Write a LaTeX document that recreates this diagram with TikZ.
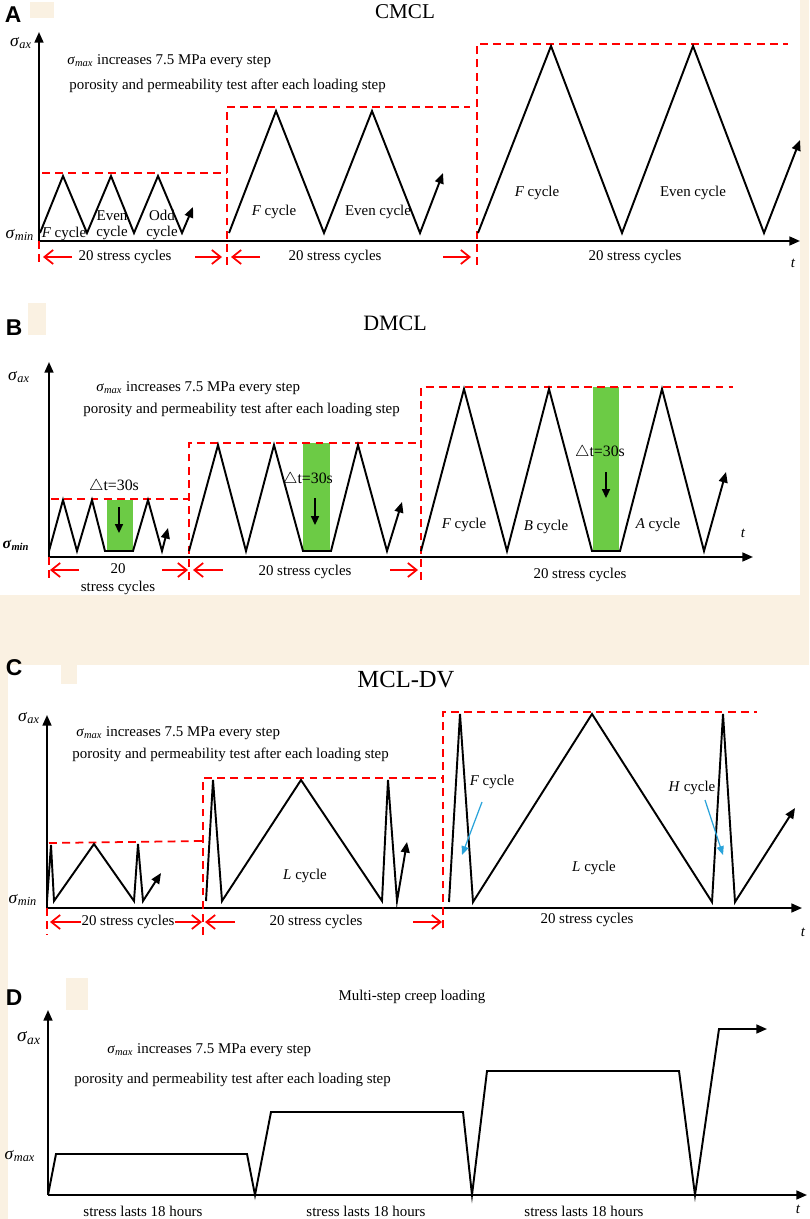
\documentclass[tikz,border=0pt]{standalone}
\usepackage{fontspec}
\setmainfont{Liberation Serif}
\newfontfamily\labelfont{Liberation Sans}
\usetikzlibrary{arrows.meta}
\definecolor{paper}{RGB}{250,241,226}
\definecolor{pause}{RGB}{108,203,69}
\definecolor{hint}{RGB}{41,163,218}
\newcommand{\sg}[1]{\textit{σ}\textsubscript{\textit{#1}}}
\begin{document}
\begin{tikzpicture}[x=0.02cm,y=-0.02cm,
  load/.style={line width=1.1pt},
  loadend/.style={load,-{Triangle[length=6pt,width=5pt]}},
  axis/.style={line width=1.1pt,-{Triangle[length=6pt,width=5pt]}},
  maxline/.style={red,line width=1pt,dash pattern=on 4.5pt off 3pt},
  spanarr/.style={red,line width=1pt,-{Straight Barb[length=5pt,width=8pt]}},
  hintarr/.style={hint,line width=0.7pt,-{Triangle[length=5pt,width=4pt]}},
  downarr/.style={line width=1pt,-{Triangle[length=5pt,width=4.5pt]}},
  txt/.style={font=\fontsize{8.5}{9}\selectfont,inner sep=0pt},
  sig/.style={font=\fontsize{10}{10}\selectfont,inner sep=0pt},
  ttl/.style={inner sep=0pt},
  tag/.style={font=\labelfont\bfseries\fontsize{13}{13}\selectfont,inner sep=0pt}]
\useasboundingbox (0,0) rectangle (809,1219);
\fill[white] (0,0) rectangle (809,1219);
\fill[paper] (800,0) rectangle (809,665);
\fill[paper] (0,595) rectangle (809,665);
\fill[paper] (0,665) rectangle (8,1219);
\fill[paper] (30,2) rectangle (54,18);
\fill[paper] (28,303) rectangle (46,335);
\fill[paper] (61,665) rectangle (77,684);
\fill[paper] (66,978) rectangle (88,1010);

% A
\node[tag] (tagA) at (13,15) {A};
\node[ttl,font=\fontsize{12}{12}\selectfont] (ttlA) at (405,12) {CMCL};
\draw[axis] (39,241) -- (39,32);
\draw[axis] (39,241) -- (800,241);
\node[sig] (saxA) at (21,43) {\sg{ax}};
\node[sig] (sminA) at (20,235) {\sg{min}};
\node[txt,anchor=west] (incA) at (67,61) {\sg{max} increases 7.5 MPa every step};
\node[txt,anchor=west] (porA) at (69,86) {porosity and permeability test after each loading step};
\draw[maxline] (42,173) -- (227,173);
\draw[maxline] (39,241) -- (39,267);
\draw[maxline] (227,265) -- (227,107) -- (470,107);
\draw[maxline] (477,265) -- (477,44) -- (788,44);
\draw[loadend] (40,233) -- (63,176) -- (87,233) -- (111,176) -- (134,233) -- (158,176) -- (182,233) -- (193,207);
\draw[loadend] (229,233) -- (276,111) -- (324,233) -- (372,111) -- (420,233) -- (443,173);
\draw[loadend] (478,233) -- (551,46) -- (622,233) -- (693,46) -- (764,233) -- (800,140);
\node[txt] (cycA1) at (64,234) {\textit{F} cycle};
\node[txt,align=center] (cycA2) at (112,225) {Even\\cycle};
\node[txt,align=center] (cycA3) at (162,225) {Odd\\cycle};
\node[txt] (cycA4) at (274,212) {\textit{F} cycle};
\node[txt] (cycA5) at (378,212) {Even cycle};
\node[txt] (cycA6) at (537,193) {\textit{F} cycle};
\node[txt] (cycA7) at (693,193) {Even cycle};
\node[txt] (tA) at (793,263) {\textit{t}};
\draw[spanarr] (72,257) -- (43,257);
\node[txt] (spanA1) at (125,257) {20 stress cycles};
\draw[spanarr] (195,257) -- (222,257);
\draw[spanarr] (260,257) -- (231,257);
\node[txt] (spanA2) at (335,257) {20 stress cycles};
\draw[spanarr] (443,257) -- (471,257);
\node[txt] (spanA3) at (635,257) {20 stress cycles};

% B
\node[tag] (tagB) at (14,328) {B};
\node[ttl,font=\fontsize{12.5}{12.5}\selectfont] (ttlB) at (395,323) {DMCL};
\draw[axis] (49,557) -- (49,362);
\draw[axis] (49,557) -- (753,557);
\node[sig] (saxB) at (19,377) {\sg{ax}};
\node[sig,font=\fontsize{9}{9}\selectfont] (sminB) at (16,545) {\textbf{\sg{min}}};
\node[txt,anchor=west] (incB) at (96,388) {\sg{max} increases 7.5 MPa every step};
\node[txt,anchor=west] (porB) at (83,410) {porosity and permeability test after each loading step};
\fill[pause] (107,500) rectangle (133,551);
\fill[pause] (303,443) rectangle (330,551);
\fill[pause] (593,387) rectangle (619,551);
\draw[maxline] (51,499) -- (189,499);
\draw[maxline] (49,557) -- (49,580);
\draw[maxline] (189,580) -- (189,443) -- (421,443);
\draw[maxline] (421,580) -- (421,387) -- (733,387);
\draw[loadend] (49,551) -- (63,500) -- (77,551) -- (92,500) -- (105,551) -- (133,551) -- (148,500) -- (162,551) -- (168,528);
\draw[loadend] (189,551) -- (218,445) -- (246,551) -- (274,445) -- (303,551) -- (331,551) -- (358,445) -- (387,551) -- (402,502);
\draw[loadend] (421,551) -- (464,389) -- (507,551) -- (549,389) -- (592,551) -- (620,551) -- (662,389) -- (704,551) -- (726,472);
\draw[downarr] (119,507) -- (119,533);
\draw[downarr] (315,498) -- (315,525);
\draw[downarr] (606,472) -- (606,498);
\node[txt,font=\fontsize{9}{9}\selectfont] (dtB1) at (114,487) {$\triangle$t=30s};
\node[txt,font=\fontsize{9}{9}\selectfont] (dtB2) at (308,480) {$\triangle$t=30s};
\node[txt,font=\fontsize{9}{9}\selectfont] (dtB3) at (600,453) {$\triangle$t=30s};
\node[txt] (cycB1) at (464,525) {\textit{F} cycle};
\node[txt] (cycB2) at (546,527) {\textit{B} cycle};
\node[txt] (cycB3) at (658,525) {\textit{A} cycle};
\node[txt] (tB) at (743,533) {\textit{t}};
\draw[spanarr] (79,570) -- (50,570);
\node[txt,align=center] (spanB1) at (118,579) {20\\[1pt]stress cycles};
\draw[spanarr] (162,570) -- (188,570);
\draw[spanarr] (223,570) -- (193,570);
\node[txt] (spanB2) at (305,572) {20 stress cycles};
\draw[spanarr] (390,570) -- (418,570);
\node[txt] (spanB3) at (580,575) {20 stress cycles};

% C
\node[tag] (tagC) at (14,668) {C};
\node[ttl,font=\fontsize{14}{14}\selectfont] (ttlC) at (406,680) {MCL-DV};
\draw[axis] (47,908) -- (47,715);
\draw[axis] (47,908) -- (802,908);
\node[sig] (saxC) at (29,718) {\sg{ax}};
\node[sig] (sminC) at (23,900) {\sg{min}};
\node[txt,anchor=west] (incC) at (76,733) {\sg{max} increases 7.5 MPa every step};
\node[txt,anchor=west] (porC) at (72,755) {porosity and permeability test after each loading step};
\draw[maxline] (49,843) -- (203,841);
\draw[maxline] (47,908) -- (47,935);
\draw[maxline] (203,935) -- (203,778) -- (443,778);
\draw[maxline] (443,928) -- (443,712) -- (757,712);
\draw[loadend] (47,901) -- (51,845) -- (54,901) -- (94,844) -- (134,901) -- (138,844) -- (143,901) -- (161,873);
\draw[loadend] (206,901) -- (213,780) -- (222,901) -- (301,780) -- (382,901) -- (388,780) -- (397,901) -- (407,842);
\draw[loadend] (449,902) -- (460,714) -- (473,902) -- (592,714) -- (712,902) -- (723,714) -- (735,902) -- (795,808);
\node[txt] (cycC1) at (305,876) {\textit{L} cycle};
\node[txt] (cycC2) at (594,868) {\textit{L} cycle};
\node[txt] (cycC3) at (492,782) {\textit{F} cycle};
\node[txt] (cycC4) at (692,788) {\textit{H} cycle};
\draw[hintarr] (482,802) -- (462,855);
\draw[hintarr] (705,800) -- (723,855);
\node[txt] (tC) at (803,932) {\textit{t}};
\node[txt] (spanC1) at (128,922) {20 stress cycles};
\draw[spanarr] (spanC1.west) -- (50,922);
\draw[spanarr] (spanC1.east) -- (202,922);
\node[txt] (spanC2) at (316,922) {20 stress cycles};
\draw[spanarr] (235,922) -- (205,922);
\draw[spanarr] (413,922) -- (442,922);
\node[txt] (spanC3) at (587,920) {20 stress cycles};

% D
\node[tag] (tagD) at (14,998) {D};
\node[txt] (ttlD) at (412,997) {Multi-step creep loading};
\draw[axis] (48,1195) -- (48,1010);
\draw[axis] (48,1195) -- (807,1195);
\node[sig,font=\fontsize{11}{11}\selectfont] (saxD) at (29,1038) {\sg{ax}};
\node[sig] (smaxD) at (20,1156) {\sg{max}};
\node[txt,anchor=west] (incD) at (107,1050) {\sg{max} increases 7.5 MPa every step};
\node[txt,anchor=west] (porD) at (74,1080) {porosity and permeability test after each loading step};
\draw[loadend] (48,1195) -- (56,1154) -- (247,1154) -- (255,1195) -- (271,1112) -- (463,1112) -- (472,1195) -- (487,1071) -- (679,1071) -- (695,1195) -- (719,1029) -- (767,1029);
\node[txt] (spanD1) at (143,1211) {stress lasts 18 hours};
\node[txt] (spanD2) at (366,1211) {stress lasts 18 hours};
\node[txt] (spanD3) at (584,1211) {stress lasts 18 hours};
\node[txt] (tD) at (798,1209) {\textit{t}};
\end{tikzpicture}
\end{document}
